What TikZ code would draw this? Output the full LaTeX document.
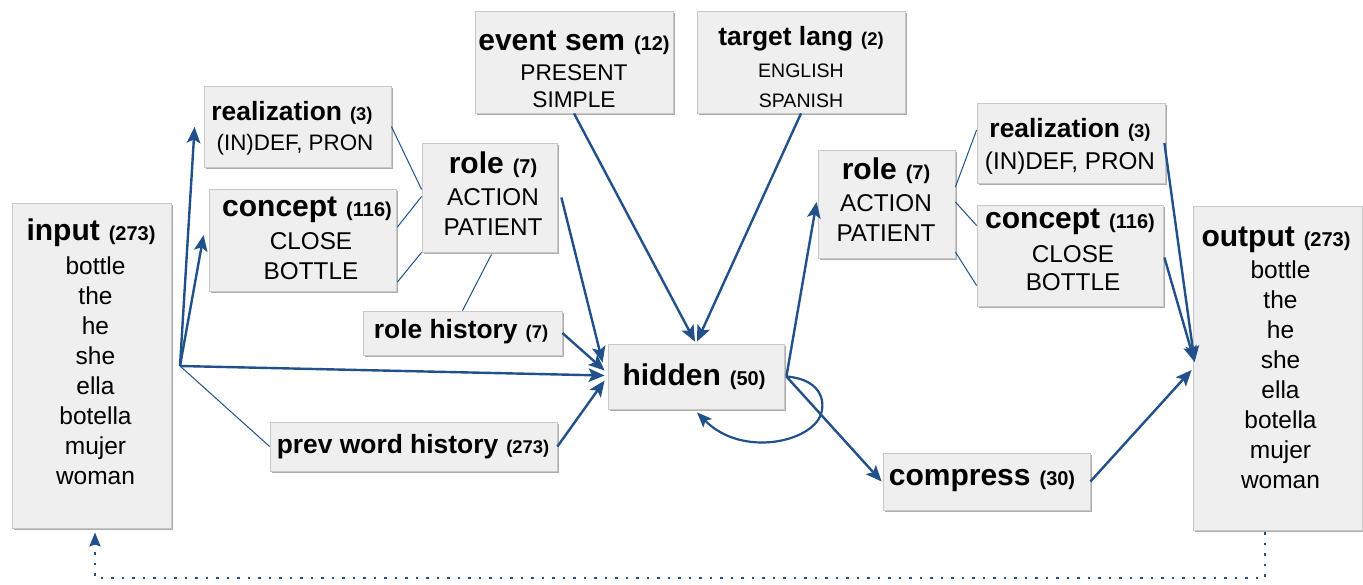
\documentclass[tikz,border=0pt]{standalone}
\usepackage{fontspec}
\setmainfont{Liberation Sans}
\usetikzlibrary{arrows.meta,shadows,calc}

\definecolor{netblue}{RGB}{33,80,138}
\definecolor{boxfill}{RGB}{239,239,239}
\definecolor{boxline}{RGB}{200,200,200}

% headings: name in large bold, unit count in smaller bold
\newcommand{\hdA}[2]{{\fontsize{30}{30}\selectfont\bfseries #1}\hspace{9pt}{\fontsize{20}{20}\selectfont\bfseries (#2)}}
\newcommand{\hdB}[2]{{\fontsize{26.4}{30}\selectfont\bfseries #1}\hspace{8pt}{\fontsize{18.4}{20}\selectfont\bfseries (#2)}}
% a block of centred lines, anchored on the baseline of its first line
\newcommand{\lines}[2]{{\fontsize{#1}{30}\selectfont\begin{tabular}[t]{@{}c@{}}#2\end{tabular}}}

\tikzset{
  x=1pt, y=-1pt,
  unit/.style={draw=boxline, fill=boxfill, line width=0.8pt, inner sep=0pt,
    drop shadow={shadow xshift=1.6pt, shadow yshift=-2.2pt, fill=black!45, opacity=0.7}},
  txt/.style={anchor=base, inner sep=0pt},
  feed/.style={draw=netblue, line width=2.4pt,
    -{Stealth[length=16pt, width=13.5pt, inset=3.5pt]}},
  link/.style={draw=netblue, line width=1pt},
  recur/.style={draw=netblue, line width=2.4pt, dash pattern=on 2.5pt off 8pt,
    -{Stealth[length=14pt, width=11pt, inset=2pt]}},
}

\begin{document}
\begin{tikzpicture}
\useasboundingbox (0,0) rectangle (1363,584);

% ---- units ----
\node[unit, minimum width=159pt, minimum height=325pt] (input)    at (91.5,365.5) {};
\node[unit, minimum width=187pt, minimum height=81pt]  (realL)    at (297.5,126.5) {};
\node[unit, minimum width=187pt, minimum height=102pt] (conceptL) at (302.5,240) {};
\node[unit, minimum width=135pt, minimum height=109pt] (roleL)    at (489.5,197.5) {};
\node[unit, minimum width=199pt, minimum height=44pt]  (rolehist) at (462.5,333) {};
\node[unit, minimum width=287pt, minimum height=49pt]  (prevword) at (413.5,446.5) {};
\node[unit, minimum width=198pt, minimum height=102pt] (eventsem) at (574,62) {};
\node[unit, minimum width=208pt, minimum height=102pt] (target)   at (801,62) {};
\node[unit, minimum width=176pt, minimum height=65pt]  (hidden)   at (696,376.5) {};
\node[unit, minimum width=207pt, minimum height=57pt]  (compress) at (986.5,481.5) {};
\node[unit, minimum width=137pt, minimum height=108pt] (roleR)    at (886.5,204) {};
\node[unit, minimum width=188pt, minimum height=80pt]  (realR)    at (1071,143) {};
\node[unit, minimum width=186pt, minimum height=101pt] (conceptR) at (1070,255.5) {};
\node[unit, minimum width=169pt, minimum height=324pt] (output)   at (1277.5,368) {};

% ---- labels ----
\node[txt] (input-t) at (91,240.5) {\lines{24.5}{\hdA{input}{273}\\[4pt]
  \hspace*{9pt}bottle\\\hspace*{9pt}the\\\hspace*{9pt}he\\\hspace*{9pt}she\\
  \hspace*{9pt}ella\\\hspace*{9pt}botella\\\hspace*{9pt}mujer\\\hspace*{9pt}woman}};
\node[txt] (output-t) at (1276,246) {\lines{24.5}{\hdA{output}{273}\\[2pt]
  \hspace*{9pt}bottle\\\hspace*{9pt}the\\\hspace*{9pt}he\\\hspace*{9pt}she\\
  \hspace*{9pt}ella\\\hspace*{9pt}botella\\\hspace*{9pt}mujer\\\hspace*{9pt}woman}};
\node[txt] (realL-t) at (292,120) {\lines{22.4}{\hdB{realization}{3}\\
  \hspace*{6pt}(IN)DEF, PRON}};
\node[txt] (conceptL-t) at (307,216.5) {\lines{24.3}{\hdA{concept}{116}\\[3pt]
  \hspace*{8pt}CLOSE\\\hspace*{8pt}BOTTLE}};
\node[txt] (roleL-t) at (493,173) {\lines{24.3}{\hdA{role}{7}\\[2pt]ACTION\\PATIENT}};
\node[txt] (rolehist-t) at (461,338) {\hdB{role history}{7}};
\node[txt] (prevword-t) at (413,453) {\hdB{prev word history}{273}};
\node[txt] (eventsem-t) at (574,50) {\lines{22.7}{\hdA{event sem}{12}\\[0pt]PRESENT\\[-3pt]SIMPLE}};
\node[txt] (target-t) at (801,45) {\lines{19.5}{\hdB{target lang}{2}\\[2pt]ENGLISH\\SPANISH}};
\node[txt] (hidden-t) at (694,385) {\hdA{hidden}{50}};
\node[txt] (compress-t) at (982,485) {\hdA{compress}{30}};
\node[txt] (roleR-t) at (886,179.5) {\lines{24.3}{\hdA{role}{7}\\[2pt]ACTION\\PATIENT}};
\node[txt] (realR-t) at (1070,137.5) {\lines{24.3}{\hdB{realization}{3}\\[2pt](IN)DEF, PRON}};
\node[txt] (conceptR-t) at (1070,228.5) {\lines{24.3}{\hdA{concept}{116}\\[4pt]
  \hspace*{6pt}CLOSE\\[-2pt]\hspace*{6pt}BOTTLE}};

% ---- fan-out point of the input layer ----
\coordinate (inhub) at (180,366);

% ---- input side ----
\draw[feed] (inhub) -- ($(realL.west)+(-9,0.5)$);
\draw[feed] (inhub) -- ($(conceptL.west)+(-5,-5)$);
\draw[feed] (inhub) -- ($(hidden.west)+(-3,-1)$);
\draw[link] (inhub) -- (prevword.west);

% ---- parts of the left role unit ----
\draw[link] (realL.east) -- ($(roleL.west)+(0,-8)$);
\draw[link] ($(conceptL.east)+(1,-13)$) -- ($(roleL.west)+(0,-1)$);
\draw[link] ($(conceptL.east)+(1,42)$) -- (roleL.south west);
\draw[link] ($(roleL.south)+(2,2)$) -- (rolehist.north);

% ---- into the hidden layer ----
\draw[feed] ($(roleL.east)+(4,0)$) -- ($(hidden.west)+(-5,-14)$);
\draw[feed] (rolehist.east) -- ($(hidden.west)+(-3,-6)$);
\draw[feed] (prevword.east) -- ($(hidden.west)+(-3,4)$);
\draw[feed] (eventsem.south) -- ($(hidden.north)+(-1,-2)$);
\draw[feed] (target.south) -- ($(hidden.north)+(1,-2)$);

% ---- recurrence of the hidden layer ----
\draw[draw=netblue, line width=2.2pt, -{Stealth[length=15pt, width=12pt, inset=3pt]}]
  ($(hidden.east)+(2,0)$) .. controls (818,379) and (826,398) .. (821,414)
  .. controls (812,442) and (742,458) .. ($(hidden.south)+(1,3)$);

% ---- out of the hidden layer ----
\draw[feed] ($(hidden.east)+(2,0)$) -- ($(roleR.west)+(-1,-2)$);
\draw[feed] ($(hidden.east)+(2,0)$) -- ($(compress.west)+(-1,0)$);

% ---- parts of the right role unit ----
\draw[link] ($(roleR.east)+(0,-17)$) -- ($(realR.west)+(0,-13)$);
\draw[link] ($(roleR.east)+(0,-2)$) -- ($(conceptR.west)+(0,-30)$);
\draw[link] ($(roleR.east)+(0,48)$) -- ($(conceptR.west)+(0,30)$);

% ---- into the output layer ----
\draw[feed] ($(realR.east)+(-1,0)$) -- ($(output.west)+(2,-6)$);
\draw[feed] ($(conceptR.east)+(1,2)$) -- ($(output.west)+(2,-6)$);
\draw[feed] (compress.east) -- ($(output.west)+(-1,2)$);

% ---- output copied back to the input ----
\coordinate (backR) at (1265,578);
\coordinate (backL) at (95,578);
\draw[recur] ($(output.south)+(-12.5,2)$) -- (backR) -- (backL) -- ($(input.south)+(3.5,4)$);
\end{tikzpicture}
\end{document}
